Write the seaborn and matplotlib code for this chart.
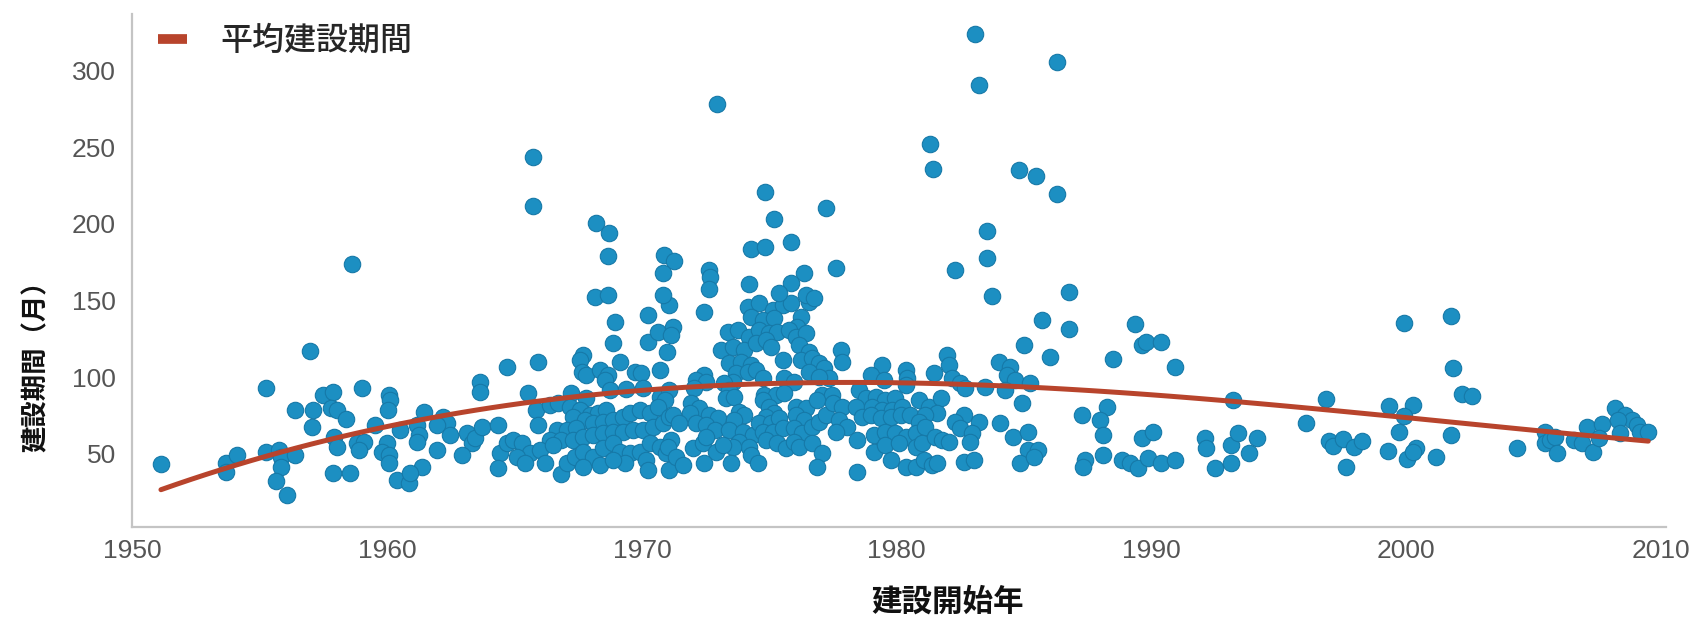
import matplotlib
matplotlib.use("Agg")
import matplotlib.pyplot as plt
from matplotlib.lines import Line2D
import seaborn as sns
import pandas as pd

# Construction start year and construction period (months), grouped by era
early_years = [1951.12, 1958.62, 1956.99, 1955.26, 1959.00, 1957.48, 1957.87, 1956.40, 1957.10, 1957.80,
               1958.04, 1958.40, 1957.05, 1960.06, 1960.12, 1960.03, 1959.53, 1960.51, 1961.17, 1961.23,
               1961.17, 1961.43, 1961.35, 1957.90, 1958.04, 1958.82, 1959.08, 1958.88, 1959.99, 1959.80,
               1960.06, 1960.06, 1960.38, 1960.84, 1960.90, 1957.88, 1958.53, 1953.67, 1953.67, 1954.12,
               1955.23, 1955.75, 1955.82, 1956.40, 1955.82, 1955.65, 1956.08,
               1962.21, 1962.34, 1961.95, 1962.47, 1961.95, 1963.12, 1963.32, 1962.93]
early_months = [43.1, 174.0, 117.2, 92.7, 92.7, 88.3, 90.5, 78.5, 78.5, 79.6,
                78.5, 72.6, 67.6, 88.3, 85.0, 78.5, 68.7, 65.5, 68.7, 62.2,
                57.8, 77.4, 41.5, 61.1, 54.6, 56.8, 57.8, 52.4, 56.8, 51.3,
                49.2, 43.7, 32.8, 30.7, 37.2, 37.2, 37.2, 43.7, 38.3, 49.2,
                51.3, 52.4, 48.0, 49.2, 41.5, 32.2, 23.0,
                74.1, 69.8, 68.7, 62.2, 52.4, 63.3, 56.8, 49.2]

sixties_years = [1963.65, 1963.65, 1965.54, 1964.69, 1965.93, 1967.69, 1967.56, 1969.12, 1968.93, 1968.87,
                 1970.23, 1970.23, 1970.63, 1971.00, 1970.69, 1967.63, 1967.82, 1968.34, 1968.67, 1968.54,
                 1969.71, 1969.97, 1968.73, 1969.38, 1970.04, 1967.23, 1967.82, 1970.69, 1971.08, 1970.89,
                 1963.45, 1963.71, 1964.36, 1965.86, 1966.38, 1966.71, 1965.93, 1967.17, 1967.56, 1967.95,
                 1968.28, 1968.60, 1967.30, 1967.76, 1968.08, 1968.47, 1968.86, 1969.25, 1969.52, 1969.91,
                 1970.30, 1970.63, 1966.65, 1967.04, 1967.43, 1966.39, 1966.84, 1967.30, 1967.69, 1968.08,
                 1968.47, 1968.86, 1969.26, 1969.65, 1970.04, 1970.43, 1970.82, 1971.08, 1964.43, 1964.69,
                 1964.95, 1965.28, 1965.60, 1965.99, 1964.36, 1965.08, 1965.41, 1966.19, 1966.84, 1967.04,
                 1967.36, 1967.69, 1968.08, 1968.47, 1968.86, 1969.13, 1969.52, 1969.91, 1970.30, 1970.69,
                 1970.95, 1971.15, 1969.32, 1970.17, 1970.23, 1971.08, 1966.52, 1967.69, 1968.34, 1968.86,
                 1965.73, 1965.73, 1968.21, 1968.70, 1968.67, 1968.15, 1968.67]
sixties_months = [97.0, 90.5, 89.4, 106.8, 110.0, 114.4, 111.2, 110.0, 136.2, 122.1,
                  140.5, 123.1, 129.6, 116.6, 104.6, 103.5, 101.3, 104.6, 101.3, 98.1,
                  103.5, 102.4, 91.5, 92.0, 92.6, 89.8, 86.1, 87.2, 91.5, 85.0,
                  60.0, 67.6, 68.7, 78.5, 81.8, 82.9, 68.7, 80.7, 78.5, 75.2,
                  76.3, 78.5, 74.1, 72.0, 69.8, 70.9, 72.0, 74.1, 76.3, 78.5,
                  76.3, 80.7, 65.4, 65.4, 66.5, 58.9, 58.9, 58.9, 61.1, 62.2,
                  63.3, 64.4, 64.4, 65.4, 65.4, 67.6, 69.8, 74.1, 50.2, 56.7,
                  58.9, 56.7, 50.2, 52.4, 40.4, 48.0, 43.7, 43.7, 37.1, 43.7,
                  48.0, 51.3, 48.0, 53.5, 56.7, 51.3, 50.2, 51.3, 56.7, 54.6,
                  50.2, 58.9, 43.7, 45.9, 39.3, 39.3, 55.6, 41.5, 42.6, 45.9,
                  243.9, 211.7, 200.4, 194.2, 179.2, 152.5, 153.6]

seventies_years = [1972.45, 1971.08, 1971.21, 1971.15, 1974.15, 1974.60, 1975.13, 1975.52, 1975.85, 1976.56,
                   1974.28, 1974.74, 1975.19, 1976.24, 1976.10, 1973.36, 1973.76, 1974.21, 1974.60, 1975.00,
                   1975.32, 1973.10, 1973.56, 1974.02, 1974.48, 1974.87, 1975.06, 1975.78, 1976.04, 1976.43,
                   1976.17, 1976.56, 1977.80, 1977.86, 1975.52, 1976.24, 1976.69, 1976.96, 1977.15, 1977.35,
                   1976.56, 1976.96, 1973.43, 1973.89, 1974.28, 1973.69, 1974.15, 1974.48, 1974.74, 1973.56,
                   1972.45, 1972.13, 1972.52, 1972.06, 1973.24, 1973.43, 1975.58, 1975.97, 1974.80, 1975.26,
                   1975.58, 1977.08, 1977.47, 1973.30, 1973.63, 1971.93, 1972.24, 1972.65, 1972.97, 1971.87,
                   1972.13, 1972.52, 1972.85, 1971.21, 1971.47, 1973.82, 1974.02, 1973.63, 1973.43, 1973.95,
                   1974.34, 1973.82, 1974.21, 1973.56, 1974.74, 1975.00, 1975.19, 1974.87, 1974.61, 1975.06,
                   1975.39, 1974.74, 1975.13, 1975.52, 1976.04, 1976.43, 1976.04, 1976.37, 1975.97, 1976.30,
                   1976.69, 1976.95, 1977.21, 1976.89, 1977.48, 1977.87, 1977.74, 1978.06, 1977.61, 1971.02,
                   1971.34, 1971.60, 1972.00, 1972.39, 1972.52, 1972.91, 1973.17, 1972.45, 1973.50, 1974.28,
                   1974.54, 1974.87, 1975.32, 1975.65, 1975.97, 1976.17, 1976.69, 1977.08, 1976.89,
                   1972.94, 1974.83, 1975.19, 1977.22, 1974.28, 1974.83, 1975.85, 1970.85, 1971.24, 1970.82,
                   1972.62, 1972.67, 1972.62, 1970.82, 1976.37, 1977.63, 1974.19, 1975.85, 1975.39, 1976.43,
                   1976.76]
seventies_months = [142.7, 147.0, 132.9, 127.5, 146.0, 148.1, 143.8, 147.0, 148.1, 149.2,
                    139.4, 137.2, 138.3, 139.4, 132.9, 129.6, 130.7, 126.4, 130.7, 128.5,
                    129.6, 117.7, 119.8, 117.7, 122.0, 124.2, 119.8, 130.7, 126.4, 128.5,
                    120.9, 116.6, 117.7, 110.0, 111.1, 111.1, 112.2, 109.0, 105.7, 99.2,
                    103.5, 100.3, 109.0, 110.0, 107.9, 102.4, 103.5, 104.6, 99.2, 97.0,
                    101.3, 98.1, 97.0, 92.6, 95.9, 91.5, 99.2, 97.0, 88.3, 88.3,
                    89.4, 88.3, 88.3, 86.1, 87.2, 82.8, 79.6, 75.2, 73.0, 76.3,
                    69.8, 68.7, 65.4, 75.2, 69.8, 77.4, 75.2, 72.0, 65.4, 64.3,
                    62.2, 57.8, 54.6, 54.6, 85.0, 80.7, 76.3, 74.1, 69.8, 69.8,
                    73.0, 64.3, 64.3, 66.5, 80.7, 79.6, 75.2, 72.0, 66.5, 63.3,
                    67.6, 70.9, 75.2, 85.0, 82.8, 80.7, 72.0, 67.6, 64.3, 54.6,
                    48.0, 42.6, 53.5, 56.7, 61.1, 51.3, 55.6, 43.7, 43.7, 49.1,
                    43.7, 58.9, 56.7, 53.5, 57.8, 54.6, 56.7, 50.2, 41.5,
                    278.0, 221.0, 202.9, 210.6, 183.4, 185.1, 188.4, 179.7, 176.0, 167.7,
                    169.9, 165.5, 157.3, 153.6, 167.7, 171.4, 160.8, 161.2, 154.7, 153.6,
                    151.4]

eighties_years = [1983.74, 1985.69, 1984.98, 1986.02, 1981.98, 1982.04, 1981.45, 1979.43, 1978.98, 1980.35,
                  1980.41, 1979.50, 1980.35, 1982.17, 1982.50, 1982.69, 1983.48, 1984.00, 1984.45, 1984.32,
                  1984.65, 1985.24, 1984.26, 1984.91, 1978.52, 1978.78, 1978.39, 1979.17, 1979.56, 1979.95,
                  1979.04, 1979.43, 1979.82, 1980.21, 1978.65, 1978.98, 1979.37, 1979.76, 1980.15, 1980.54,
                  1980.87, 1981.26, 1981.72, 1981.58, 1981.13, 1980.87, 1982.63, 1982.30, 1982.50, 1983.22,
                  1982.95, 1982.89, 1984.06, 1984.58, 1985.17, 1985.17, 1985.56, 1984.85, 1985.37, 1978.45,
                  1979.11, 1979.56, 1979.95, 1980.35, 1980.74, 1981.13, 1979.11, 1979.56, 1980.08, 1980.74,
                  1981.00, 1981.52, 1981.78, 1982.04, 1979.76, 1980.35, 1980.74, 1981.06, 1981.39, 1981.58,
                  1982.63, 1983.02, 1978.45,
                  1983.09, 1986.31, 1983.24, 1981.30, 1981.43, 1984.82, 1985.47, 1986.31, 1983.54, 1983.54,
                  1982.28, 1986.78, 1986.78,
                  1989.35, 1989.61, 1989.80, 1990.39, 1988.50, 1990.91, 1993.20, 1987.26, 1988.24, 1987.98,
                  1988.11, 1988.11, 1987.39, 1987.33, 1988.83, 1989.15, 1989.48, 1989.87, 1990.39, 1990.91,
                  1989.61, 1990.07, 1992.09, 1992.15, 1992.48, 1993.13, 1993.39, 1993.13, 1994.16, 1993.84]
eighties_months = [152.9, 137.2, 120.9, 113.3, 114.4, 107.9, 102.4, 107.9, 101.3, 104.6,
                   99.2, 98.1, 94.8, 99.2, 95.9, 92.6, 93.7, 110.0, 106.8, 101.3,
                   98.1, 95.9, 91.5, 82.8, 91.5, 86.1, 80.7, 87.2, 85.0, 86.1,
                   80.7, 78.5, 78.5, 80.7, 74.1, 75.2, 73.0, 74.1, 75.2, 75.2,
                   85.0, 80.7, 86.1, 76.3, 75.2, 70.9, 75.2, 70.9, 66.5, 70.9,
                   63.3, 57.8, 69.8, 61.1, 64.3, 52.4, 52.4, 43.7, 48.0, 58.9,
                   62.2, 64.3, 63.3, 61.1, 63.3, 67.6, 51.3, 55.6, 56.7, 54.6,
                   56.7, 61.1, 58.9, 57.8, 45.9, 41.5, 41.5, 45.9, 42.6, 43.7,
                   44.8, 45.9, 38.2,
                   323.9, 305.4, 290.7, 252.1, 235.8, 235.2, 231.3, 219.5, 195.6, 177.9,
                   169.9, 155.7, 131.4,
                   135.0, 120.9, 123.1, 123.1, 111.6, 106.8, 85.0, 75.2, 80.7, 72.0,
                   62.2, 49.1, 45.9, 41.5, 45.9, 43.7, 40.4, 47.0, 43.7, 45.9,
                   60.0, 64.3, 60.0, 53.5, 40.4, 55.6, 63.3, 43.7, 60.0, 50.2]

recent_years = [1999.91, 2001.77, 2001.85, 2002.20, 2002.59, 1996.85, 1999.33, 2000.28, 1999.91, 1996.07,
                1999.72, 2001.77, 1996.98, 1997.11, 1997.50, 1997.96, 1998.28, 1997.63, 1999.29, 2000.04,
                2000.37, 2000.28, 2001.15, 2004.35, 2005.46, 2005.46, 2005.65, 2005.85, 2005.92, 2006.57,
                2006.89, 2007.09, 2007.35, 2007.68, 2007.55, 2008.20, 2008.59, 2008.85, 2009.05, 2008.33,
                2008.39, 2009.18, 2009.50]
recent_months = [135.5, 140.1, 105.7, 88.7, 87.9, 85.5, 81.1, 81.8, 74.8, 69.8,
                 64.4, 62.2, 58.5, 55.0, 59.4, 54.6, 58.3, 41.5, 51.8, 46.5,
                 53.5, 51.1, 48.0, 53.5, 64.4, 56.8, 58.9, 61.1, 50.7, 59.0,
                 56.8, 67.6, 51.3, 69.4, 60.0, 79.6, 75.3, 72.0, 68.7, 72.0,
                 63.3, 64.4, 64.4]

x_ticks = [1950, 1960, 1970, 1980, 1990, 2000, 2010]
y_ticks = [50, 100, 150, 200, 250, 300]

df = pd.DataFrame({
    "year": early_years + sixties_years + seventies_years + eighties_years + recent_years,
    "months": early_months + sixties_months + seventies_months + eighties_months + recent_months,
})

POINT = "#1c8fc2"
POINT_EDGE = "#1679a8"
TREND = "#b8442c"

sns.set_style("white")
plt.rcParams["font.family"] = ["Noto Sans CJK JP", "DejaVu Sans"]

fig = plt.figure(figsize=(17.02, 6.19), dpi=100)
ax = fig.add_axes([0.0778, 0.1494, 0.9011, 0.8280])

sns.scatterplot(data=df, x="year", y="months", ax=ax, s=140, color=POINT,
                edgecolor=POINT_EDGE, linewidth=0.8, alpha=1, zorder=2, legend=False)
sns.regplot(data=df, x="year", y="months", ax=ax, order=3, scatter=False, ci=None,
            truncate=True, line_kws=dict(color=TREND, lw=3.6, zorder=3))

ax.set_xlim(1950.18, 2010.2)
ax.set_ylim(2.5, 337)
ax.set_xticks(x_ticks)
ax.set_yticks(y_ticks)
ax.tick_params(axis="both", length=0, labelsize=19, labelcolor="#555555")
ax.tick_params(axis="y", pad=12)
ax.tick_params(axis="x", pad=9)
for lab in ax.get_xticklabels() + ax.get_yticklabels():
    lab.set_fontfamily("Liberation Sans")

for side in ("top", "right"):
    ax.spines[side].set_visible(False)
for side in ("left", "bottom"):
    ax.spines[side].set_color("#c4c4c4")
    ax.spines[side].set_linewidth(1.6)

ax.set_xlabel("建設開始年", fontsize=22, fontweight="bold", color="#111111")
ax.xaxis.set_label_coords(0.5318, -0.1473)
ax.xaxis.label.set_va("center")
ax.set_ylabel("建設期間（月）", fontsize=19, fontweight="bold", color="#111111")
ax.yaxis.set_label_coords(-0.0629, 0.325)
ax.yaxis.label.set_va("center")

handle = Line2D([0], [0], color=TREND, lw=7, solid_capstyle="butt")
ax.legend([handle], ["平均建設期間"], loc="upper left", bbox_to_anchor=(0.0166, 0.978),
          frameon=False, prop=dict(size=23, weight="medium"), handlelength=0.9,
          handletextpad=1.05, borderpad=0, borderaxespad=0)

fig.savefig("out.png", dpi=100)
